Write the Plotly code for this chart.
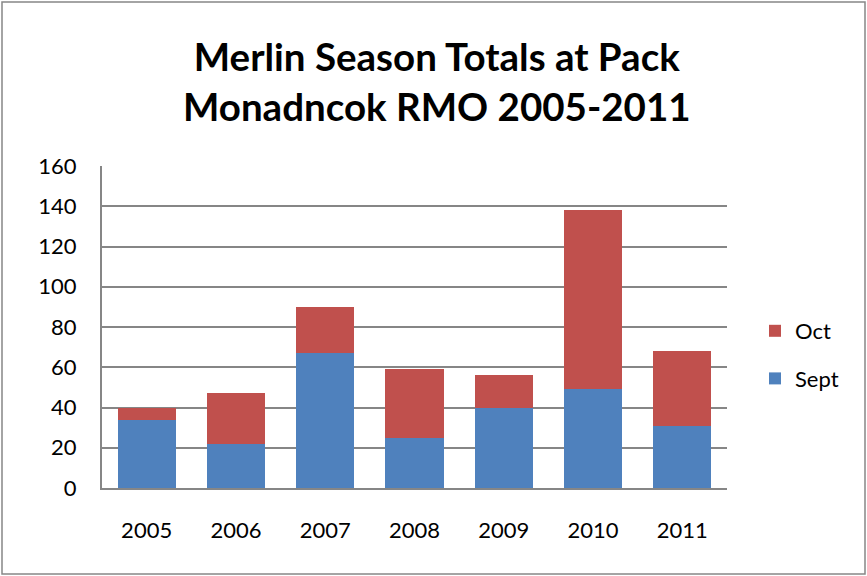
import plotly.graph_objects as go

years = ["2005", "2006", "2007", "2008", "2009", "2010", "2011"]
sept = [34, 22, 67, 25, 40, 49, 31]
octo = [6, 25, 23, 34, 16, 89, 37]
y_ticks = [0, 20, 40, 60, 80, 100, 120, 140, 160]

FONT = "Lato, Calibri, Carlito, sans-serif"

fig = go.Figure()
fig.add_trace(go.Bar(name="Sept", x=years, y=sept, legendgroup="s", legendrank=2,
                     marker=dict(color="#4F81BD", line=dict(width=0))))
fig.add_trace(go.Bar(name="Oct", x=years, y=octo, legendgroup="o", legendrank=1,
                     marker=dict(color="#C0504D", line=dict(width=0))))

L, R, T, B = 102, 140, 166, 88
pw = 867 - L - R
ph = 576 - T - B

def px_x(p):
    return (p - L) / pw

def px_y(p):
    return (576 - B - p) / ph

fig.update_layout(
    width=867, height=576,
    barmode="stack", bargap=0.35,
    plot_bgcolor="white", paper_bgcolor="white",
    margin=dict(l=L, r=R, t=T, b=B),
    font=dict(family=FONT, size=22, color="black"),
    annotations=[dict(
        text="<b>Merlin Season Totals at Pack<br>Monadncok RMO 2005-2011</b>",
        xref="paper", yref="paper", x=px_x(437), y=px_y(81),
        xanchor="center", yanchor="middle", showarrow=False,
        font=dict(family=FONT, size=38.5, color="black"),
    )],
    legend=dict(
        x=px_x(755), xanchor="left", y=px_y(355), yanchor="middle",
        traceorder="grouped", font=dict(size=22), tracegroupgap=16,
        itemwidth=30,
    ),
    showlegend=True,
    xaxis=dict(
        showline=True, linecolor="#868686", linewidth=2, mirror=False,
        ticks="", tickfont=dict(size=22), showgrid=False, ticklabelstandoff=22,
    ),
    yaxis=dict(
        range=[0, 160], tickvals=y_ticks, showline=True, linecolor="#868686", linewidth=2,
        showgrid=True, gridcolor="#868686", gridwidth=2, ticks="", tickfont=dict(size=22),
        zeroline=False, ticklabelstandoff=19,
    ),
    shapes=[dict(
        type="rect", xref="paper", yref="paper",
        x0=px_x(2), x1=px_x(865), y0=px_y(574), y1=px_y(2),
        line=dict(color="#868686", width=1.5), fillcolor="rgba(0,0,0,0)", layer="below",
    )],
)

fig.write_html("out.html", config={"displayModeBar": False},
               post_script="document.body.style.margin='0';")
